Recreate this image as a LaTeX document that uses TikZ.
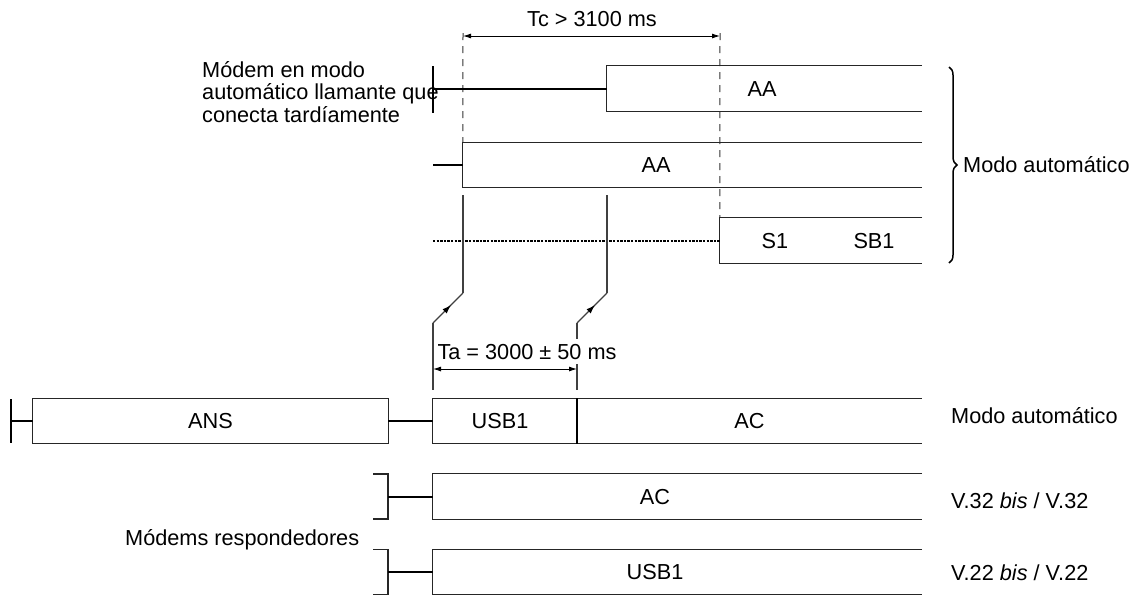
\documentclass[tikz,border=0pt]{standalone}
\usepackage{fontspec}
\setmainfont{Liberation Sans}
\usetikzlibrary{arrows.meta,decorations.pathreplacing,decorations.markings}
\begin{document}
\begin{tikzpicture}[x=1pt,y=-1pt,
  every node/.style={font=\fontsize{21.7}{22.5}\selectfont, inner sep=0pt},
  boxline/.style={draw=black!85, line width=1.3pt},
  conn/.style={draw=black, line width=2pt},
  thinline/.style={draw=black!75, line width=1.1pt},
  dimline/.style={draw=black, line width=0.9pt, {Latex[length=8pt,width=5pt]}-{Latex[length=8pt,width=5pt]}},
  dashv/.style={draw=black!80, line width=1pt, dash pattern=on 7pt off 6pt},
  dotline/.style={draw=black, line width=2pt, dash pattern=on 2.4pt off 1.2pt},
  slot/.style={rectangle, minimum height=45pt, inner sep=0pt},
  midarrow/.style={decoration={markings, mark=at position 0.6 with {\arrow[black]{Latex[length=9pt,width=6pt]}}}, postaction={decorate}}
]
\useasboundingbox (0,0) rectangle (1139,598);

% ---------- box slots ----------
\node[slot, minimum width=315pt] (aa1) at (764.5,88.5) {};
\node[slot, minimum width=459pt] (aa2) at (692.5,165) {};
\node[slot, minimum width=202pt] (s1)  at (821,240.5) {};
\node[slot, minimum width=355pt] (ans) at (210.5,421) {};
\node[slot, minimum width=144pt] (usb) at (505,421) {};
\node[slot, minimum width=345pt] (ac)  at (749.5,421) {};
\node[slot, minimum width=489pt] (ac2) at (677.5,496.5) {};
\node[slot, minimum width=489pt] (usb2) at (677.5,572) {};

% ---------- dashed guides and Tc ----------
\coordinate (tcl) at (463,33);
\coordinate (tcr) at (720,33);
\draw[dashv] (tcl) -- (aa2.north west);
\draw[dashv] (tcr) -- (s1.north west);
\draw[dimline] (463,36) -- (720,36);
\node[anchor=base] (tc) at (592,26) {Tc > 3100 ms};

% ---------- open boxes ----------
\draw[boxline] (aa1.north east) -- (aa1.north west) -- (aa1.south west) -- (aa1.south east);
\draw[boxline] (aa2.north east) -- (aa2.north west) -- (aa2.south west) -- (aa2.south east);
\draw[boxline] (s1.north east) -- (s1.north west) -- (s1.south west) -- (s1.south east);
\draw[boxline] (ans.north west) rectangle (ans.south east);
\draw[boxline] (usb.north east) -- (usb.north west) -- (usb.south west) -- (usb.south east);
\draw[boxline] (ac.north west) -- (ac.north east);
\draw[boxline] (ac.south west) -- (ac.south east);
\draw[conn] (ac.north west) -- (ac.south west);
\draw[boxline] (ac2.north east) -- (ac2.north west) -- (ac2.south west) -- (ac2.south east);
\draw[boxline] (usb2.north east) -- (usb2.north west) -- (usb2.south west) -- (usb2.south east);

% ---------- box texts ----------
\node[anchor=base] (taa1) at (762,96) {AA};
\node[anchor=base] (taa2) at (656,172.5) {AA};
\node[anchor=base] (ts1) at (775,248) {S1};
\node[anchor=base] (tsb1) at (874,248) {SB1};
\node[anchor=base] (tans) at (210.5,428.5) {ANS};
\node[anchor=base] (tusb) at (500,428.5) {USB1};
\node[anchor=base] (tac) at (749.5,428.5) {AC};
\node[anchor=base] (tac2) at (655,504) {AC};
\node[anchor=base] (tusb2) at (655,579.5) {USB1};

% ---------- row 1: calling modem ----------
\coordinate (k1t) at (433,66);
\coordinate (k1b) at (433,113);
\coordinate (k1m) at (433,88.5);
\draw[conn] (k1t) -- (k1b);
\draw[conn] (k1m) -- (aa1.west);
\node[anchor=base west] (m1) at (202,77) {Módem en modo};
\node[anchor=base west] (m2) at (202,99.5) {automático llamante que};
\node[anchor=base west] (m3) at (202,122) {conecta tardíamente};

% ---------- row 2 ----------
\coordinate (k2) at (433,165);
\draw[conn] (k2) -- (aa2.west);

% ---------- row 3 ----------
\coordinate (k3) at (433,240.5);
\draw[dotline] (k3) -- (s1.west);

% ---------- brace ----------
\draw[decorate, decoration={brace, amplitude=8pt}, line width=1.5pt] (949,67) -- (949,263);
\node[anchor=base west] (mauto1) at (963,172.5) {Modo automático};

% ---------- switches ----------
\coordinate (sa1) at (463,195);
\coordinate (sa2) at (463,293);
\coordinate (sa3) at (433,323);
\coordinate (sa4) at (433,390);
\draw[thinline] (sa1) -- (sa2);
\draw[thinline, midarrow] (sa3) -- (sa2);
\coordinate (sb1) at (607,195);
\coordinate (sb2) at (607,293);
\coordinate (sb3) at (577,323);
\coordinate (sb4) at (577,390);
\draw[thinline] (sb1) -- (sb2);
\draw[thinline, midarrow] (sb3) -- (sb2);
\draw[thinline] (sb3) -- (sb4);
\node[anchor=base, fill=white, inner xsep=1pt, inner ysep=5pt] (ta) at (527,359) {Ta = 3000 ± 50 ms};
\draw[thinline] (sa3) -- (sa4);
\draw[dimline] (433,369) -- (577,369);

% ---------- row 4: answering ----------
\coordinate (k4t) at (11,399);
\coordinate (k4b) at (11,443);
\coordinate (k4m) at (11,421);
\draw[conn] (k4t) -- (k4b);
\draw[conn] (k4m) -- (ans.west);
\draw[conn] (ans.east) -- (usb.west);
\node[anchor=base west] (mauto2) at (951,423) {Modo automático};

% ---------- rows 5,6: brackets ----------
\coordinate (b5t) at (373,474);
\coordinate (b5tr) at (388,474);
\coordinate (b5br) at (388,519);
\coordinate (b5b) at (373,519);
\coordinate (b5m) at (388,496.5);
\draw[boxline] (b5t) -- (b5tr) -- (b5br) -- (b5b);
\draw[conn] (b5m) -- (ac2.west);
\node[anchor=base west] (v32) at (951,508) {V.32 \textit{bis} / V.32};

\coordinate (b6t) at (373,549.5);
\coordinate (b6tr) at (388,549.5);
\coordinate (b6br) at (388,594.5);
\coordinate (b6b) at (373,594.5);
\coordinate (b6m) at (388,572);
\draw[boxline] (b6t) -- (b6tr) -- (b6br) -- (b6b);
\draw[conn] (b6m) -- (usb2.west);
\node[anchor=base west] (v22) at (951,580) {V.22 \textit{bis} / V.22};

\node[anchor=base west] (resp) at (125,545) {Módems respondedores};
\end{tikzpicture}
\end{document}
